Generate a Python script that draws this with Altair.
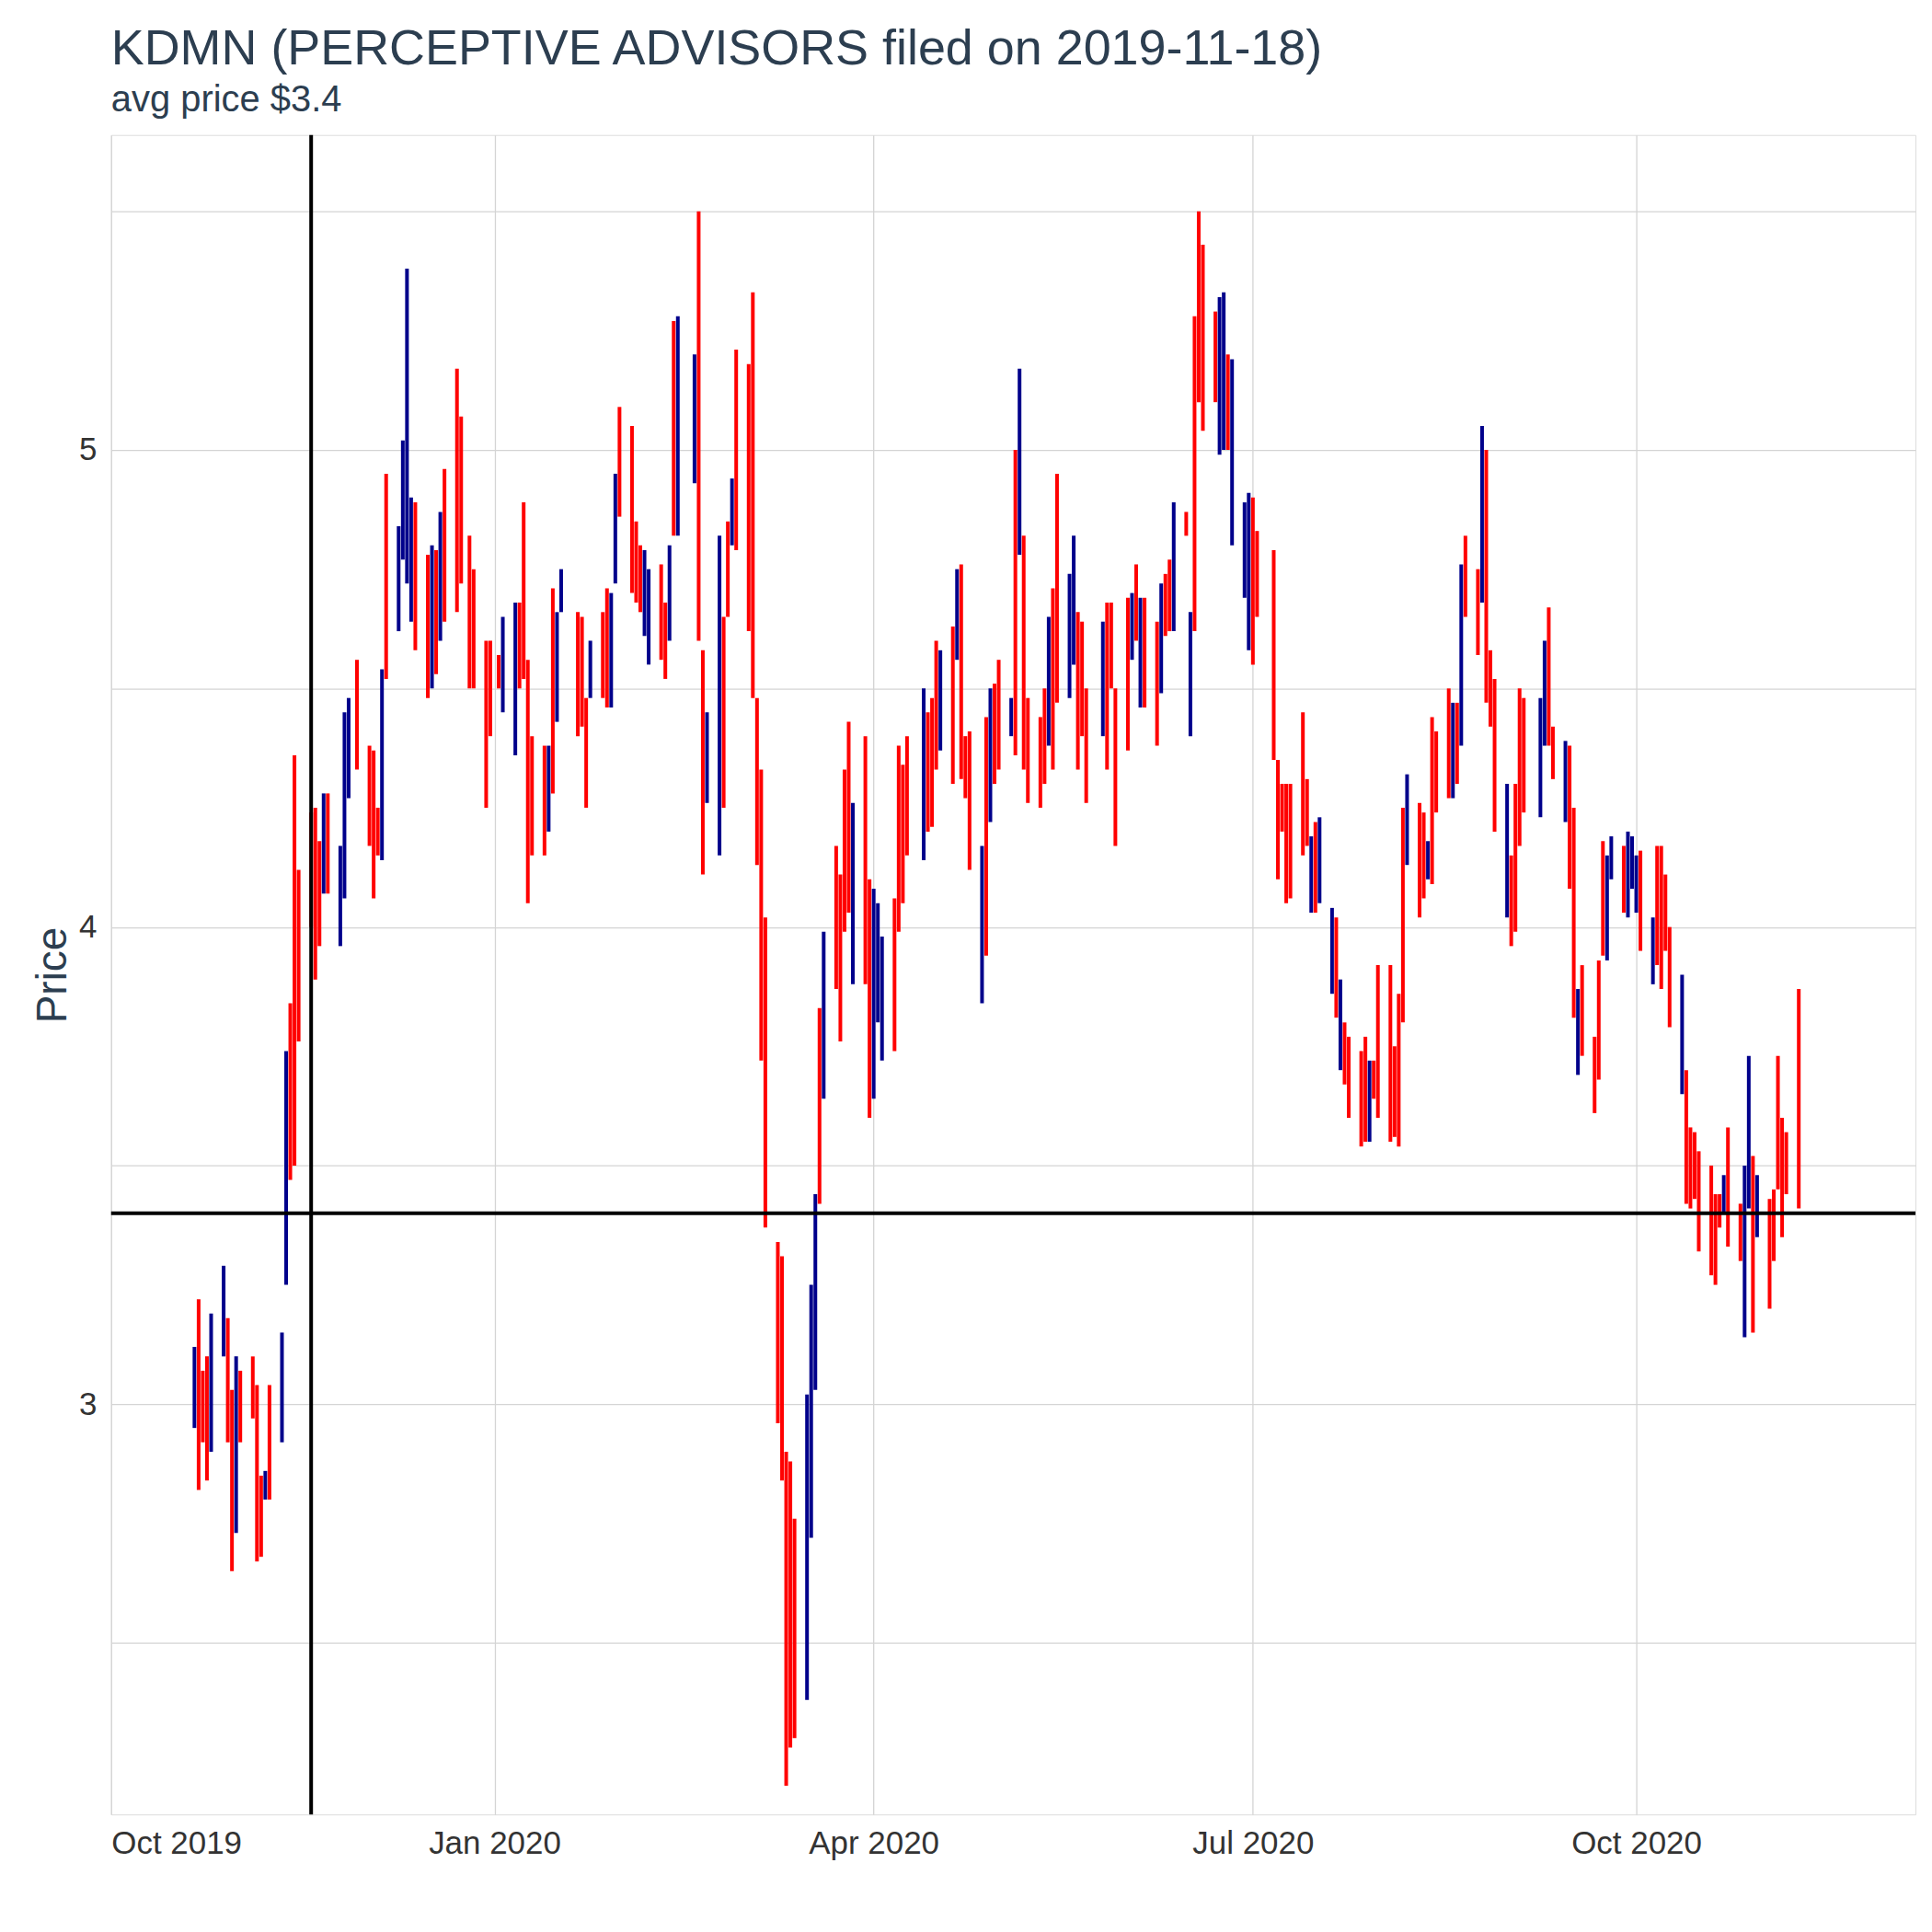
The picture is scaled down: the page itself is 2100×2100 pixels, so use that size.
import altair as alt
import pandas as pd

# daily low / high / direction (u = up day, d = down day)
lows = [2.95, 2.82, 2.92, 2.84, 2.90, 3.10, 2.92, 2.65, 2.73, 2.92,
        2.97, 2.67, 2.68, 2.80, 2.80, 2.92, 3.25, 3.47, 3.50, 3.76,
        4.00, 3.89, 3.96, 4.07, 4.07, 3.96, 4.06, 4.27, 4.33, 4.17,
        4.06, 4.15, 4.14, 4.52, 4.62, 4.77, 4.72, 4.64, 4.58, 4.48,
        4.50, 4.53, 4.60, 4.64, 4.66, 4.72, 4.50, 4.50, 4.25, 4.40,
        4.50, 4.45, 4.36, 4.50, 4.52, 4.05, 4.15, 4.15, 4.20, 4.28,
        4.43, 4.66, 4.40, 4.42, 4.25, 4.48, 4.48, 4.46, 4.46, 4.72,
        4.86, 4.70, 4.68, 4.66, 4.61, 4.55, 4.56, 4.52, 4.60, 4.82,
        4.82, 4.93, 4.60, 4.11, 4.26, 4.15, 4.25, 4.65, 4.80, 4.79,
        4.62, 4.48, 4.13, 3.72, 3.37, 2.96, 2.84, 2.20, 2.28, 2.30,
        2.38, 2.72, 3.03, 3.42, 3.64, 3.87, 3.76, 3.99, 4.03, 3.88,
        3.88, 3.60, 3.64, 3.80, 3.72, 3.74, 3.99, 4.05, 4.15, 4.14,
        4.20, 4.21, 4.33, 4.37, 4.30, 4.56, 4.31, 4.27, 4.12, 3.84,
        3.94, 4.22, 4.30, 4.33, 4.40, 4.36, 4.78, 4.33, 4.26, 4.25,
        4.30, 4.38, 4.33, 4.47, 4.48, 4.55, 4.33, 4.40, 4.26, 4.40,
        4.33, 4.50, 4.17, 4.37, 4.56, 4.60, 4.46, 4.46, 4.38, 4.49,
        4.61, 4.62, 4.62, 4.82, 4.40, 4.62, 5.10, 5.04, 5.10, 4.99,
        5.00, 5.00, 4.80, 4.69, 4.58, 4.55, 4.65, 4.35, 4.10, 4.20,
        4.05, 4.06, 4.15, 4.17, 4.03, 4.03, 4.05, 3.86, 3.81, 3.70,
        3.67, 3.60, 3.54, 3.55, 3.55, 3.64, 3.60, 3.55, 3.56, 3.54,
        3.80, 4.13, 4.02, 4.06, 4.10, 4.09, 4.24, 4.27, 4.27, 4.30,
        4.38, 4.65, 4.57, 4.68, 4.47, 4.42, 4.20, 4.02, 3.96, 3.99,
        4.17, 4.24, 4.23, 4.38, 4.38, 4.31, 4.22, 4.08, 3.81, 3.69,
        3.73, 3.61, 3.68, 3.94, 3.93, 4.10, 4.03, 4.02, 4.08, 4.03,
        3.95, 3.88, 3.92, 3.87, 3.95, 3.79, 3.65, 3.42, 3.41, 3.43,
        3.32, 3.27, 3.25, 3.37, 3.40, 3.33, 3.30, 3.14, 3.41, 3.15,
        3.35, 3.20, 3.30, 3.45, 3.35, 3.44, 3.41]
highs = [3.12, 3.22, 3.07, 3.10, 3.19, 3.29, 3.18, 3.03, 3.10, 3.07,
         3.10, 3.04, 2.85, 2.86, 3.04, 3.15, 3.74, 3.84, 4.36, 4.12,
         4.24, 4.25, 4.18, 4.28, 4.28, 4.17, 4.45, 4.48, 4.56, 4.38,
         4.37, 4.25, 4.54, 4.95, 4.84, 5.02, 5.38, 4.90, 4.89, 4.78,
         4.80, 4.79, 4.87, 4.96, 5.17, 5.07, 4.82, 4.75, 4.60, 4.60,
         4.57, 4.65, 4.68, 4.68, 4.89, 4.56, 4.40, 4.38, 4.38, 4.71,
         4.66, 4.75, 4.66, 4.65, 4.48, 4.60, 4.66, 4.71, 4.70, 4.95,
         5.09, 5.05, 4.85, 4.80, 4.79, 4.75, 4.76, 4.68, 4.80, 5.27,
         5.28, 5.20, 5.50, 4.58, 4.45, 4.82, 4.65, 4.85, 4.94, 5.21,
         5.18, 5.33, 4.48, 4.33, 4.02, 3.34, 3.31, 2.90, 2.88, 2.76,
         3.02, 3.25, 3.44, 3.83, 3.99, 4.17, 4.11, 4.33, 4.43, 4.26,
         4.40, 4.10, 4.08, 4.05, 3.98, 4.06, 4.38, 4.34, 4.40, 4.50,
         4.45, 4.48, 4.60, 4.58, 4.63, 4.75, 4.76, 4.40, 4.41, 4.17,
         4.44, 4.50, 4.51, 4.56, 4.48, 5.00, 5.17, 4.82, 4.48, 4.44,
         4.50, 4.65, 4.71, 4.95, 4.74, 4.82, 4.66, 4.64, 4.50, 4.64,
         4.68, 4.68, 4.50, 4.69, 4.70, 4.76, 4.69, 4.69, 4.64, 4.72,
         4.74, 4.77, 4.89, 4.87, 4.66, 5.28, 5.50, 5.43, 5.29, 5.32,
         5.33, 5.20, 5.19, 4.89, 4.91, 4.90, 4.83, 4.79, 4.35, 4.30,
         4.30, 4.30, 4.45, 4.31, 4.19, 4.22, 4.23, 4.04, 4.02, 3.89,
         3.80, 3.77, 3.74, 3.77, 3.72, 3.72, 3.92, 3.92, 3.75, 3.86,
         4.25, 4.32, 4.26, 4.24, 4.18, 4.44, 4.41, 4.50, 4.47, 4.47,
         4.76, 4.82, 4.75, 5.05, 5.00, 4.58, 4.52, 4.30, 4.15, 4.30,
         4.50, 4.48, 4.48, 4.60, 4.67, 4.42, 4.39, 4.38, 4.25, 3.87,
         3.92, 3.77, 3.93, 4.18, 4.15, 4.19, 4.17, 4.20, 4.19, 4.15,
         4.16, 4.02, 4.17, 4.17, 4.11, 4.00, 3.90, 3.70, 3.58, 3.57,
         3.53, 3.50, 3.44, 3.44, 3.48, 3.58, 3.42, 3.50, 3.73, 3.52,
         3.48, 3.43, 3.45, 3.73, 3.60, 3.57, 3.87]
direction = list(
    "udddu" "uddud" "dddud" "uuddd" "dddud" "uuudd" "ddudu" "uuudd"
    "ududd" "ddddd" "duudd" "dddud" "uuddd" "udduu" "ddddu" "uddud"
    "uudduu" "ddudd" "ddddd" "ddddu" "uudud" "dddud" "duuud" "dddud"
    "ddudu" "dddud" "uddud" "udddd" "udduu" "dddud" "dddud" "uddud"
    "dudud" "ddduu" "duuud" "ddddd" "dddud" "uudud" "dddud" "ddddd"
    "uddudd" "dudud" "dudddu" "ddddu" "uddu" "dduddd" "duudu" "uudud"
    "dddud" "dddd" "ddudd" "uududdd" "ddduud" "ddudd" "dud" "ud" "uu"
)

holidays = ["2019-11-28", "2019-12-25", "2020-01-01", "2020-01-20", "2020-02-17",
            "2020-04-10", "2020-05-25", "2020-07-03", "2020-09-07"]
days = [d for d in pd.bdate_range("2019-10-21", "2020-12-31")
        if d.strftime("%Y-%m-%d") not in holidays][:len(lows)]

n = min(len(lows), len(highs))
direction = (direction + ["d"] * n)[:n]
df = pd.DataFrame({"date": [d.strftime("%Y-%m-%d") for d in days[:n]],
                   "low": lows[:n], "high": highs[:n], "dir": direction})

navy = "#2c3e50"
x_ticks = ["2019-10-01", "2020-01-01", "2020-04-01", "2020-07-01", "2020-10-01"]

x = alt.X("date:T", title=None,
          scale=alt.Scale(domain=["2019-10-01", "2020-12-07"]),
          axis=alt.Axis(values=[alt.DateTime(year=int(s[:4]), month=int(s[5:7]), date=1) for s in x_ticks],
                        format="%b %Y", labelFontSize=35, labelColor="#333333",
                        ticks=False, labelPadding=14, domain=False, gridColor="#d4d4d4",
                        gridWidth=1.3))

bars = alt.Chart(df).mark_rule(strokeWidth=4).encode(
    x=x,
    y=alt.Y("low:Q", title="Price",
            scale=alt.Scale(domain=[2.14, 5.66], nice=False, zero=False),
            axis=alt.Axis(values=[2.5, 3, 3.5, 4, 4.5, 5, 5.5],
                          labelExpr="datum.value % 1 == 0 ? format(datum.value, 'd') : ''",
                          labelFontSize=35, labelColor="#333333", titleFontSize=46,
                          titleFontWeight="normal", titleColor=navy, ticks=False,
                          labelPadding=16, domain=False, gridColor="#d4d4d4",
                          gridWidth=1.3)),
    y2="high:Q",
    color=alt.Color("dir:N", scale=alt.Scale(domain=["u", "d"], range=["darkblue", "red"]),
                    legend=None),
)

vline = alt.Chart(pd.DataFrame({"d": ["2019-11-18"]})).mark_rule(
    color="black", strokeWidth=4).encode(x="d:T")
hline = alt.Chart(pd.DataFrame({"p": [3.4]})).mark_rule(
    color="black", strokeWidth=4).encode(y="p:Q")

chart = alt.layer(bars, vline, hline).properties(
    width=1965, height=1829,
    autosize=alt.AutoSizeParams(type="none"),
    padding={"left": 113, "top": 137, "right": 10, "bottom": 110},
    title=alt.Title("KDMN (PERCEPTIVE ADVISORS filed on 2019-11-18)",
                    subtitle="avg price $3.4", anchor="start", frame="group",
                    fontSize=54, subtitleFontSize=40, color=navy, subtitleColor=navy,
                    fontWeight="normal", offset=16, subtitlePadding=8,
                    font="Liberation Sans", subtitleFont="Liberation Sans"),
).configure_view(stroke=navy, strokeWidth=1.5).configure(font="Liberation Sans")

chart.save("out.html", embed_options={"renderer": "svg", "actions": False})
